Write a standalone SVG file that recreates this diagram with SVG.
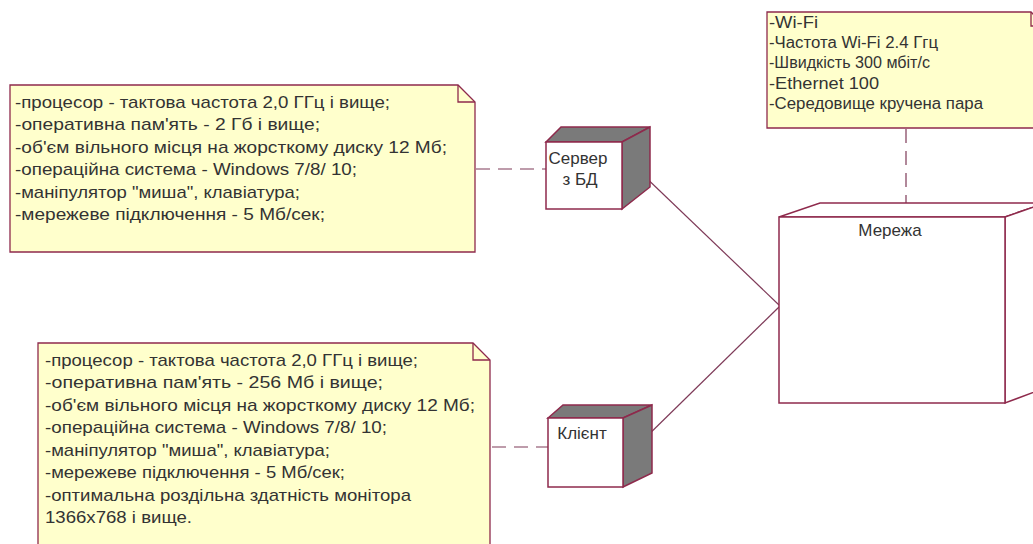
<svg xmlns="http://www.w3.org/2000/svg" width="1033" height="544" viewBox="0 0 1033 544">
<style>
.note{fill:#FFFFCC;stroke:#8E2A4C;stroke-width:1.3}
.fold{fill:none;stroke:#8E2A4C;stroke-width:1.3}
.t{font-family:"Liberation Sans",Arial,sans-serif;font-size:17px;fill:#333}
.tw{font-family:"Liberation Sans",Arial,sans-serif;font-size:16px;fill:#333}
.front{fill:#FFFFFF;stroke:#8E2A4C;stroke-width:1.5}
.side{fill:#7A7A7A;stroke:#8E2A4C;stroke-width:1.5}
.sidew{fill:#FFFFFF;stroke:#8E2A4C;stroke-width:1.5}
.con{fill:none;stroke:#7E3A58;stroke-width:1.2}
.dash{fill:none;stroke:#7E3A58;stroke-width:1.2;stroke-dasharray:14,8}
</style>
<rect width="1033" height="544" fill="#FFFFFF"/>
<g id="connectors">
<line class="dash" x1="476" y1="169" x2="546" y2="169"/>
<line class="dash" x1="492" y1="447" x2="548" y2="447"/>
<line class="dash" x1="906" y1="129" x2="906" y2="210"/>
<line class="con" x1="638" y1="170" x2="779" y2="305"/>
<line class="con" x1="638" y1="445" x2="779" y2="307"/>
</g>
<g id="note-server">
<path class="note" d="M10,85 H458 L475,102 V252 H10 Z"/>
<path class="fold" d="M458,85 V102 H475"/>
<text class="t" x="15" y="108" textLength="375" lengthAdjust="spacingAndGlyphs">-процесор - тактова частота 2,0 ГГц і вище;</text>
<text class="t" x="15" y="130" textLength="305" lengthAdjust="spacingAndGlyphs">-оперативна пам'ять  - 2 Гб і вище;</text>
<text class="t" x="15" y="153" textLength="432" lengthAdjust="spacingAndGlyphs">-об'єм вільного місця на жорсткому диску 12 Мб;</text>
<text class="t" x="15" y="175" textLength="342" lengthAdjust="spacingAndGlyphs">-операційна система - Windows 7/8/ 10;</text>
<text class="t" x="15" y="198" textLength="285" lengthAdjust="spacingAndGlyphs">-маніпулятор "миша", клавіатура;</text>
<text class="t" x="15" y="220" textLength="310" lengthAdjust="spacingAndGlyphs">-мережеве підключення - 5 Мб/сек;</text>
</g>
<g id="note-client">
<path class="note" d="M38,343 H473 L490,360 V550 H38 Z"/>
<path class="fold" d="M473,343 V360 H490"/>
<text class="t" x="45" y="366" textLength="373" lengthAdjust="spacingAndGlyphs">-процесор - тактова частота 2,0 ГГц і вище;</text>
<text class="t" x="45" y="388" textLength="338" lengthAdjust="spacingAndGlyphs">-оперативна пам'ять  - 256 Мб і вище;</text>
<text class="t" x="45" y="411" textLength="430" lengthAdjust="spacingAndGlyphs">-об'єм вільного місця на жорсткому диску 12 Мб;</text>
<text class="t" x="45" y="433" textLength="342" lengthAdjust="spacingAndGlyphs">-операційна система - Windows 7/8/ 10;</text>
<text class="t" x="45" y="456" textLength="285" lengthAdjust="spacingAndGlyphs">-маніпулятор "миша", клавіатура;</text>
<text class="t" x="45" y="478" textLength="300" lengthAdjust="spacingAndGlyphs">-мережеве підключення - 5 Мб/сек;</text>
<text class="t" x="45" y="501" textLength="366" lengthAdjust="spacingAndGlyphs">-оптимальна роздільна здатність монітора</text>
<text class="t" x="45" y="523" textLength="147" lengthAdjust="spacingAndGlyphs">1366x768 і вище.</text>
</g>
<g id="note-network">
<path class="note" d="M767,12 H1031 L1045,26 V128 H767 Z"/>
<path class="fold" d="M1031,12 V26 H1045"/>
<text class="tw" x="769" y="28" textLength="49" lengthAdjust="spacingAndGlyphs">-Wi-Fi</text>
<text class="tw" x="769" y="48" textLength="169" lengthAdjust="spacingAndGlyphs">-Частота Wi-Fi 2.4 Ггц</text>
<text class="tw" x="769" y="68" textLength="161" lengthAdjust="spacingAndGlyphs">-Швидкість 300 мбіт/с</text>
<text class="tw" x="769" y="89" textLength="110" lengthAdjust="spacingAndGlyphs">-Ethernet 100</text>
<text class="tw" x="769" y="109" textLength="214" lengthAdjust="spacingAndGlyphs">-Середовище кручена пара</text>
</g>
<g id="node-server">
<path class="side" d="M546,142 L561,127 H650 L622,142 Z"/>
<path class="side" d="M622,142 L650,127 V187 L622,209 Z"/>
<rect class="front" x="546" y="142" width="76" height="67"/>
<text class="t" x="578" y="164" text-anchor="middle">Сервер</text>
<text class="t" x="580" y="185" text-anchor="middle">з БД</text>
</g>
<g id="node-client">
<path class="side" d="M548,418 L563,405 H652 L623,418 Z"/>
<path class="side" d="M623,418 L652,405 V473 L623,487 Z"/>
<rect class="front" x="548" y="418" width="75" height="69"/>
<text class="t" x="582" y="439" text-anchor="middle">Клієнт</text>
</g>
<g id="node-network">
<path class="sidew" d="M779,217 L820,203 H1045 L1005,217 Z"/>
<path class="sidew" d="M1005,217 L1045,203 V388 L1005,403 Z"/>
<rect class="front" x="779" y="217" width="226" height="186"/>
<text class="t" x="890" y="236" text-anchor="middle">Мережа</text>
</g>
</svg>
